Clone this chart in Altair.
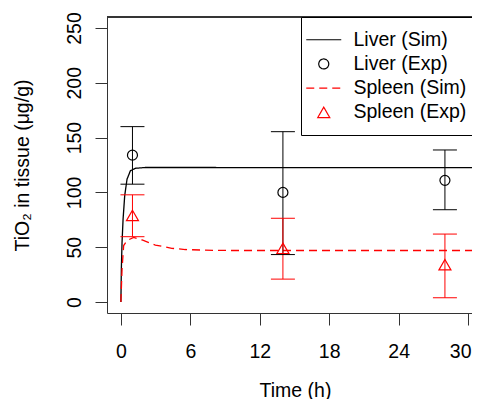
import altair as alt
import pandas as pd

# ---- data ----
series_names = ["Liver (Sim)", "Liver (Exp)", "Spleen (Sim)", "Spleen (Exp)"]
series_colors = ["black", "black", "red", "red"]

liver_sim_t = [0, 0.04, 0.1, 0.19, 0.33, 0.53, 0.82, 1.25, 2.1, 4, 8, 14, 20, 26, 31.5]
liver_sim_v = [0, 30, 54.5, 75.7, 97, 112, 119.7, 122, 122.7, 122.7, 122.7, 122.6, 122.6, 122.6, 122.6]

spleen_sim_t = [0, 0.1, 0.24, 0.53, 1.1, 1.83, 2.98, 4.4, 5.57, 7, 8.5, 10, 14, 20, 26, 31.5]
spleen_sim_v = [0, 30, 51.5, 56, 59, 56.6, 52, 49, 47.9, 47.4, 47.1, 47, 47, 47, 47, 47]

exp_t = [1, 14, 28]
liver_mean = [134, 100, 111]
liver_lo = [107.5, 43.3, 84.2]
liver_hi = [160, 155.4, 138.7]
spleen_mean = [79, 49, 34]
spleen_lo = [59.6, 20.9, 3.9]
spleen_hi = [97.8, 76.4, 62]

x_ticks = [0, 6, 12, 18, 24, 30]
y_ticks = [0, 50, 100, 150, 200, 250]

# ---- tables ----
sim_df = pd.DataFrame(
    {"t": liver_sim_t + spleen_sim_t,
     "value": liver_sim_v + spleen_sim_v,
     "series": [series_names[0]] * len(liver_sim_t) + [series_names[2]] * len(spleen_sim_t)}
)
exp_df = pd.DataFrame(
    {"t": exp_t + exp_t,
     "mean": liver_mean + spleen_mean,
     "lo": liver_lo + spleen_lo,
     "hi": liver_hi + spleen_hi,
     "series": [series_names[1]] * 3 + [series_names[3]] * 3}
)

FONT = "Liberation Sans"
FS = 19.5
W = 365

x_scale = alt.Scale(domain=[-1.2, -1.2 + W / 11.573], nice=False, zero=False)
y_scale = alt.Scale(domain=[-10, 260], nice=False, zero=False)

legend = alt.Legend(
    title=None, orient="none", legendX=194, legendY=0, direction="vertical",
    padding=13, strokeColor="black", fillColor="white",
    labelFont=FONT, labelFontSize=FS, labelColor="black",
    labelExpr="datum.label + '      '",
    symbolSize=100, symbolStrokeWidth=1.2, symbolOffset=0, labelOffset=20,
    symbolFillColor="transparent",
    rowPadding=3.2,
)

color = alt.Color("series:N", scale=alt.Scale(domain=series_names, range=series_colors), legend=legend)
shape = alt.Shape("series:N", scale=alt.Scale(
    domain=series_names,
    range=["M-3.5,0L3.5,0", "circle", "M-3.5,0L3.5,0", "M0,-1.04L1.2,1.04L-1.2,1.04Z"]),
    legend=legend)
dash = alt.StrokeDash("series:N", scale=alt.Scale(
    domain=series_names, range=[[1, 0], [1, 0], [8, 5], [1, 0]]), legend=legend)

x_axis = alt.Axis(values=x_ticks, grid=False, domain=True, domainColor="#333", tickColor="#333",
                  tickSize=12, labelFont=FONT, labelFontSize=FS, labelColor="black",
                  labelPadding=17, labelFlush=False, labelOverlap=False,
                  labelAlign={"condition": {"test": "datum.value == 30", "value": "right"}, "value": "center"},
                  labelOffset={"condition": {"test": "datum.value == 30", "value": 3}, "value": 0},
                  title="Time (h)", titleFont=FONT, titleFontSize=FS, titleFontWeight="normal",
                  titleColor="black", titleBaseline="alphabetic", titleX=188, titleY=83)
y_axis = alt.Axis(values=y_ticks, grid=False, domain=True, domainColor="#333", tickColor="#333",
                  tickSize=12, labelFont=FONT, labelFontSize=FS, labelColor="black",
                  labelAngle=-90, labelAlign="center", labelBaseline="bottom",
                  labelPadding=11, labelFlush=False, labelOverlap=False,
                  title="TiO₂ in tissue (μg/g)", titleFont=FONT, titleFontSize=FS,
                  titleFontWeight="normal", titleColor="black", titleBaseline="alphabetic",
                  titleX=-79, titleY=148)

lines = alt.Chart(sim_df).mark_line(strokeWidth=1.3, clip=True).encode(
    x=alt.X("t:Q", scale=x_scale, axis=x_axis),
    y=alt.Y("value:Q", scale=y_scale, axis=y_axis),
    color=color,
    strokeDash=dash,
)

bars = alt.Chart(exp_df).mark_rule(strokeWidth=1).encode(
    x="t:Q", y="lo:Q", y2="hi:Q", color=color,
)
caps_lo = alt.Chart(exp_df).mark_rule(strokeWidth=1, xOffset=-12, x2Offset=12).encode(
    x="t:Q", x2="t:Q", y="lo:Q", color=color,
)
caps_hi = alt.Chart(exp_df).mark_rule(strokeWidth=1, xOffset=-12, x2Offset=12).encode(
    x="t:Q", x2="t:Q", y="hi:Q", color=color,
)
points = alt.Chart(exp_df).mark_point(filled=False, size=100, strokeWidth=1.2, opacity=1).encode(
    x="t:Q", y="mean:Q", color=color, shape=shape,
)

top_border = alt.Chart(exp_df).mark_rule(color="#333", strokeWidth=1).encode(
    x=alt.value(0), x2=alt.value(W), y=alt.value(0)
)

chart = alt.layer(lines, bars, caps_lo, caps_hi, points, top_border).properties(
    width=W, height=296,
    padding={"left": 99, "top": 9, "right": 0, "bottom": 86},
    autosize=alt.AutoSizeParams(type="none"),
).configure_view(stroke="transparent")

chart.save("out.html", embed_options={"renderer": "svg", "actions": False})
